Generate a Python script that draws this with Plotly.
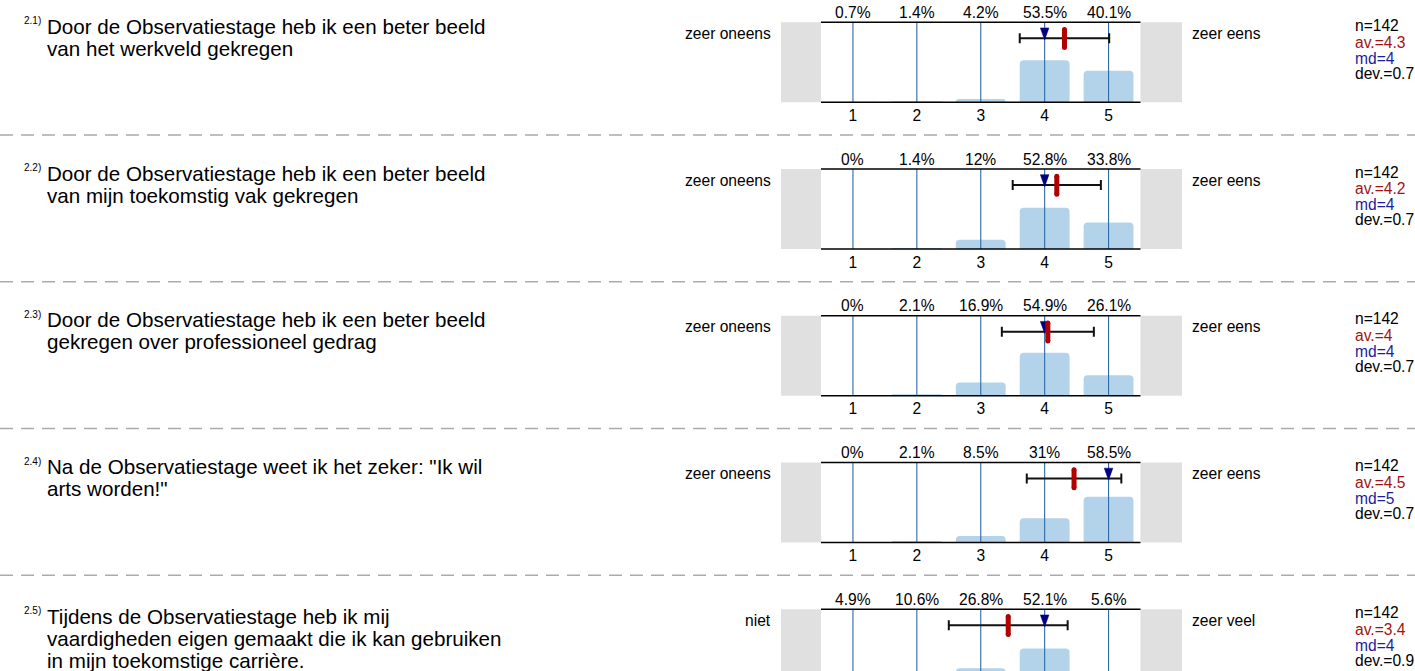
import plotly.graph_objects as go

# ---------------- data ----------------
item_ids = ["2.1)", "2.2)", "2.3)", "2.4)", "2.5)"]
questions = [
    ["Door de Observatiestage heb ik een beter beeld", "van het werkveld gekregen"],
    ["Door de Observatiestage heb ik een beter beeld", "van mijn toekomstig vak gekregen"],
    ["Door de Observatiestage heb ik een beter beeld", "gekregen over professioneel gedrag"],
    ["Na de Observatiestage weet ik het zeker: \"Ik wil", "arts worden!\""],
    ["Tijdens de Observatiestage heb ik mij",
     "vaardigheden eigen gemaakt die ik kan gebruiken",
     "in mijn toekomstige carrière."],
]
left_labels = ["zeer oneens", "zeer oneens", "zeer oneens", "zeer oneens", "niet"]
right_labels = ["zeer eens", "zeer eens", "zeer eens", "zeer eens", "zeer veel"]
categories = [1, 2, 3, 4, 5]
tick_labels = ["1", "2", "3", "4", "5"]

pct_2_1 = [0.7, 1.4, 4.2, 53.5, 40.1]
pct_2_2 = [0, 1.4, 12, 52.8, 33.8]
pct_2_3 = [0, 2.1, 16.9, 54.9, 26.1]
pct_2_4 = [0, 2.1, 8.5, 31, 58.5]
pct_2_5 = [4.9, 10.6, 26.8, 52.1, 5.6]
percentages = [pct_2_1, pct_2_2, pct_2_3, pct_2_4, pct_2_5]

n_values = [142, 142, 142, 142, 142]
means = [4.31, 4.19, 4.05, 4.46, 3.43]
medians = [4, 4, 4, 5, 4]
devs = [0.70, 0.69, 0.72, 0.74, 0.93]

# ---------------- layout constants (pixels) ----------------
W, H = 1415, 671
FONT = "Liberation Sans, Arial, sans-serif"
ROW0_TOP = 22.3
ROW_STEP = 146.75
PANEL_H = 80.0
PLOT_L, PLOT_R = 821.0, 1140.5
GREY_L, GREY_R = 781.0, 1182.0
YMAX = 102.0
PX_PER_UNIT = (PLOT_R - PLOT_L) / 5.0

BAR_COLOR = "#b3d3ea"
GRID_COLOR = "#2e6aa5"
MEAN_COLOR = "#b00000"
MED_COLOR = "#000080"
AV_TEXT = "#a01414"
MD_TEXT = "#1c1c9e"
SMALL = 15.6
BIG = 20.6


def px(x):
    return x / W


def py(y):
    return 1 - y / H


def ydata(off):
    """data-y for a pixel offset below the panel top"""
    return YMAX - off * YMAX / PANEL_H


fig = go.Figure()
shapes = []
annotations = []
layout_axes = {}

for i in range(5):
    s = "" if i == 0 else str(i + 1)
    xa, ya = "x" + s, "y" + s
    T = ROW0_TOP + ROW_STEP * i
    B = T + PANEL_H
    Bv = min(B, H)
    ylow = YMAX * (1 - (Bv - T) / PANEL_H)
    pct = percentages[i]
    m, md, d = means[i], medians[i], devs[i]

    # bars
    fig.add_trace(go.Bar(x=categories, y=pct, width=0.78, marker=dict(color=BAR_COLOR, line=dict(width=0)),
                         xaxis=xa, yaxis=ya, hoverinfo="skip"))
    # vertical category lines
    gx, gy = [], []
    for c in categories:
        gx += [c, c, None]
        gy += [ylow, YMAX, None]
    fig.add_trace(go.Scatter(x=gx, y=gy, mode="lines", line=dict(color=GRID_COLOR, width=1.1),
                             xaxis=xa, yaxis=ya, hoverinfo="skip"))
    # deviation bar
    fig.add_trace(go.Scatter(x=[m], y=[ydata(16)], mode="markers",
                             marker=dict(size=1, color="rgba(0,0,0,0)"),
                             error_x=dict(type="data", array=[d], color="#111111", thickness=2, width=5),
                             xaxis=xa, yaxis=ya, hoverinfo="skip"))
    # median triangle
    hw = 4.3 / PX_PER_UNIT
    fig.add_trace(go.Scatter(x=[md - hw, md + hw, md, md - hw],
                             y=[ydata(5.6), ydata(5.6), ydata(17.6), ydata(5.6)],
                             mode="lines", fill="toself", fillcolor=MED_COLOR,
                             line=dict(color=MED_COLOR, width=0.5),
                             xaxis=xa, yaxis=ya, hoverinfo="skip"))
    # mean marker (rounded thick bar)
    fig.add_trace(go.Scatter(x=[m, m], y=[ydata(7.3), ydata(25.3)], mode="lines+markers",
                             line=dict(color=MEAN_COLOR, width=5),
                             marker=dict(symbol="circle", size=5, color=MEAN_COLOR, line=dict(width=0)),
                             xaxis=xa, yaxis=ya, hoverinfo="skip"))

    layout_axes["xaxis" + s] = dict(domain=[px(PLOT_L), px(PLOT_R)], range=[0.5, 5.5], anchor=ya,
                                   showgrid=False, zeroline=False, showline=False,
                                   tickmode="array", tickvals=categories, ticktext=tick_labels,
                                   ticks="", showticklabels=(B <= H), ticklabelstandoff=2,
                                   tickfont=dict(size=SMALL, color="#000000", family=FONT),
                                   fixedrange=True)
    layout_axes["yaxis" + s] = dict(domain=[py(Bv), py(T)], range=[ylow, YMAX], anchor=xa,
                                   visible=False, fixedrange=True)

    # grey side boxes
    for x0, x1 in [(GREY_L, PLOT_L), (PLOT_R, GREY_R)]:
        shapes.append(dict(type="rect", xref="paper", yref="paper", x0=px(x0), x1=px(x1),
                           y0=py(B), y1=py(T), fillcolor="#e0e0e0", line=dict(width=0), layer="below"))
    # top / bottom black lines
    shapes.append(dict(type="line", xref=xa + " domain", yref=ya + " domain", x0=0, x1=1, y0=1, y1=1,
                       line=dict(color="#000000", width=1.6), layer="above"))
    if B <= H:
        shapes.append(dict(type="line", xref=xa + " domain", yref=ya + " domain", x0=0, x1=1, y0=0, y1=0,
                           line=dict(color="#000000", width=1.6), layer="above"))

    # percentage labels
    for c, p in zip(categories, pct):
        annotations.append(dict(x=c, y=1, xref=xa, yref=ya + " domain", text=f"{p:g}%", showarrow=False,
                                xanchor="center", yanchor="middle", yshift=10,
                                font=dict(size=SMALL, color="#000000", family=FONT)))
    # side labels
    annotations.append(dict(x=px(773), y=py(T + 11), xref="paper", yref="paper", text=left_labels[i],
                            showarrow=False, xanchor="right", yanchor="middle",
                            font=dict(size=SMALL, color="#000000", family=FONT)))
    annotations.append(dict(x=px(1190), y=py(T + 11), xref="paper", yref="paper", text=right_labels[i],
                            showarrow=False, xanchor="left", yanchor="middle",
                            font=dict(size=SMALL, color="#000000", family=FONT)))
    # stats
    stats = [(f"n={n_values[i]}", "#000000", 3),
             (f"av.={round(m, 1):g}", AV_TEXT, 19.8),
             (f"md={md:g}", MD_TEXT, 35.8),
             (f"dev.={round(d, 1):g}", "#000000", 50.8)]
    for txt, col, off in stats:
        annotations.append(dict(x=px(1353), y=py(T + off), xref="paper", yref="paper", text=txt,
                                showarrow=False, xanchor="left", yanchor="middle",
                                font=dict(size=SMALL, color=col, family=FONT)))
    # question text
    first = 4 if i < 4 else 7
    for j, line in enumerate(questions[i]):
        annotations.append(dict(x=px(44.5), y=py(T + first + 22 * j), xref="paper", yref="paper", text=line,
                                showarrow=False, xanchor="left", yanchor="middle",
                                font=dict(size=BIG, color="#000000", family=FONT)))
    annotations.append(dict(x=px(22), y=py(T + first - 5.5), xref="paper", yref="paper", text=item_ids[i],
                            showarrow=False, xanchor="left", yanchor="middle",
                            font=dict(size=10, color="#000000", family=FONT)))

    # dashed separator
    if i < 4:
        ysep = T + 112.7
        shapes.append(dict(type="line", xref="paper", yref="paper", x0=0, x1=1, y0=py(ysep), y1=py(ysep),
                           line=dict(color="#ababab", width=1.3, dash="13px,8px"), layer="above"))

fig.update_layout(
    width=W, height=H, margin=dict(l=0, r=0, t=0, b=0, pad=0),
    paper_bgcolor="#ffffff", plot_bgcolor="#ffffff",
    showlegend=False, hovermode=False, barcornerradius=4,
    font=dict(family=FONT, color="#000000"),
    shapes=shapes, annotations=annotations,
    **layout_axes,
)

fig.write_html("out.html", config={"displayModeBar": False, "staticPlot": True},
               post_script="document.body.style.margin='0';document.body.style.overflow='hidden';")
